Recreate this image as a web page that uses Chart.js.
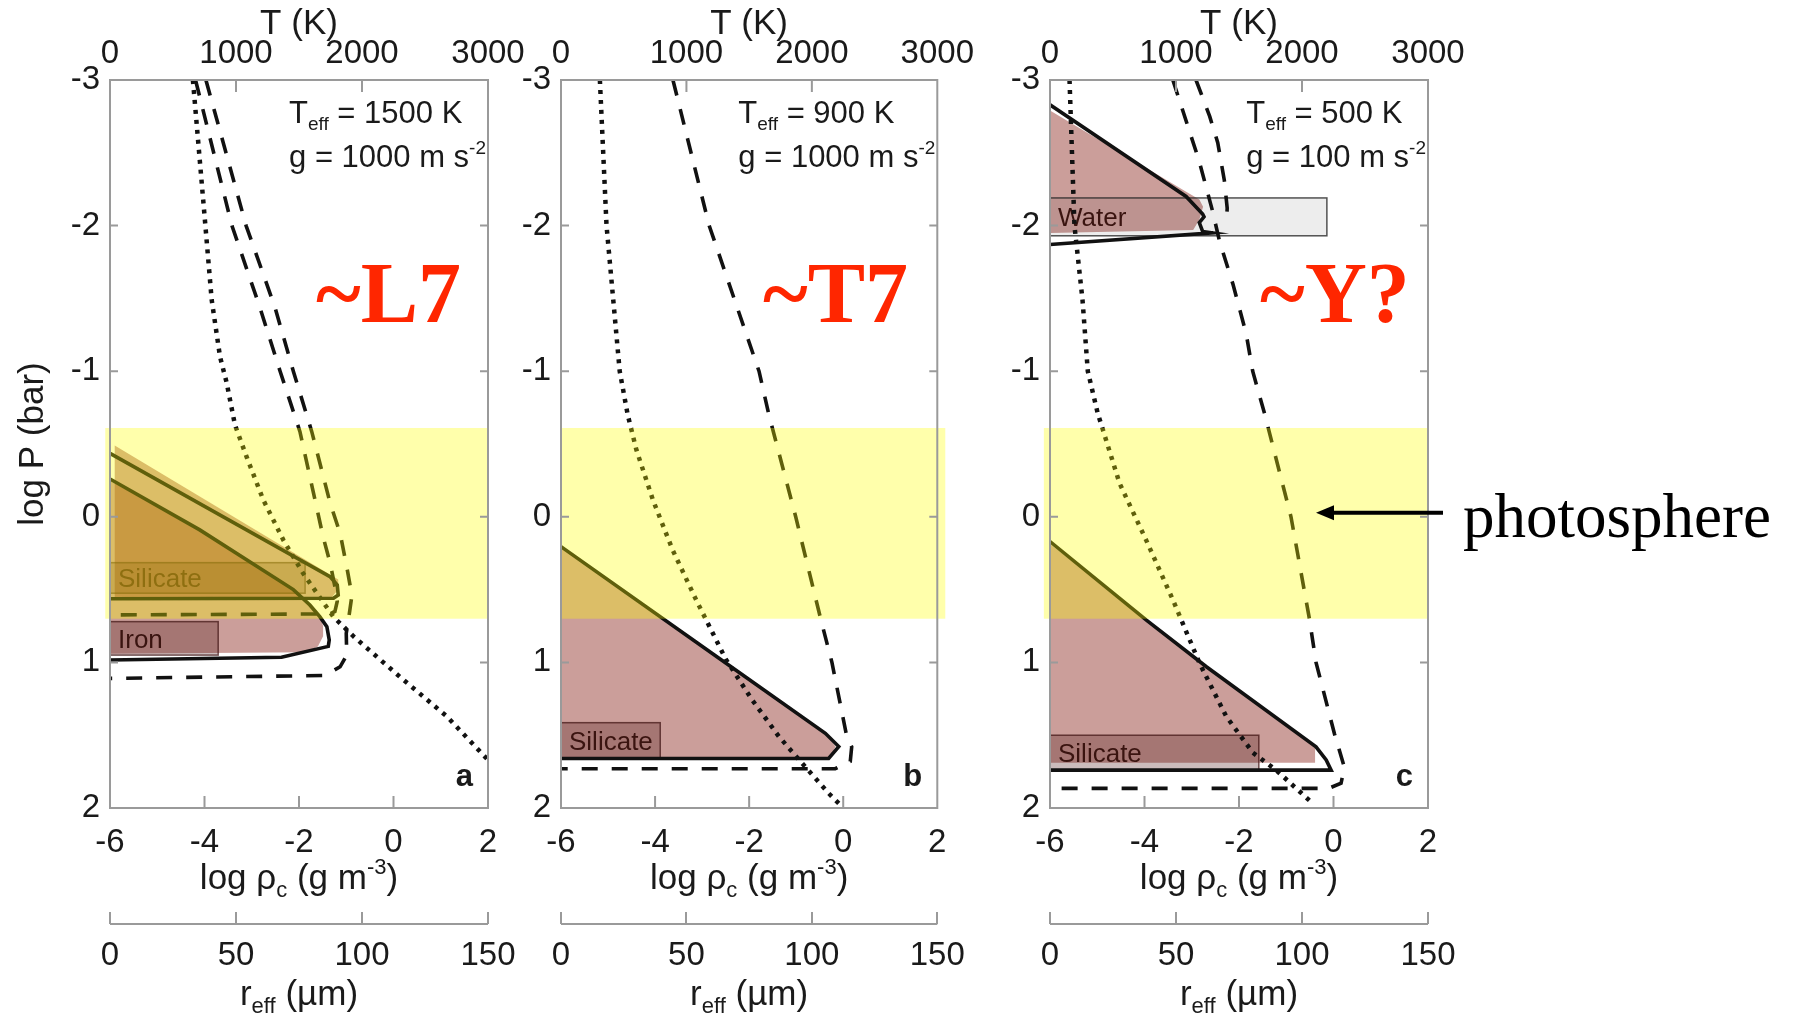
<!DOCTYPE html>
<html>
<head>
<meta charset="utf-8">
<script src="https://cdn.jsdelivr.net/npm/chart.js@4.4.1/dist/chart.umd.min.js"></script>
<style>
  html, body { margin: 0; padding: 0; background: #fff; }
  body { width: 1794px; height: 1018px; position: relative; overflow: hidden; }
  canvas { position: absolute; top: 0; }
</style>
</head>
<body>
<canvas id="panelA" width="540" height="1018" style="left:0px"></canvas>
<canvas id="panelB" width="480" height="1018" style="left:500px"></canvas>
<canvas id="panelC" width="814" height="1018" style="left:980px"></canvas>
<script>
// axis ticks
const logPTicks = [-3, -2, -1, 0, 1, 2];
const rhoTicks = [-6, -4, -2, 0, 2];
const tempTicks = [0, 1000, 2000, 3000];
const reffTicks = [0, 50, 100, 150];

// photosphere band, log P (bar)
const photosphere = [-0.61, 0.70];

// ---- a: Teff = 1500 K, g = 1000 m s-2 ----
const aSilFillRho = [-5.9, -1.17, -1.17, -1.3, -5.9];
const aSilFillP   = [-0.49, 0.43, 0.50, 0.55, 0.55];
const aFeFillRho  = [-6.2, -4.1, -2.12, -1.77, -1.56, -1.49, -1.49, -1.6, -1.85, -6];
const aFeFillP    = [-0.28, 0.08, 0.49, 0.60, 0.68, 0.75, 0.82, 0.89, 0.93, 0.94];
const aSilRho = [-6, -1.344, -1.19, -1.17, -1.27, -6];
const aSilP   = [-0.436, 0.411, 0.468, 0.537, 0.559, 0.563];
const aFeRho  = [-6, -4.1, -2.12, -1.77, -1.56, -1.41, -1.36, -1.38, -2.37, -6];
const aFeP    = [-0.26, 0.09, 0.50, 0.606, 0.686, 0.755, 0.846, 0.89, 0.965, 0.984];
const aSilDashRho = [-4.19, -3.42, -2.83, -2.40, -1.98, -1.63, -1.49, -1.34, -1.24, -1.19, -1.24, -1.34, -6];
const aSilDashP   = [-3, -2, -1.44, -1.0, -0.585, -0.07, 0.137, 0.32, 0.48, 0.58, 0.65, 0.667, 0.674];
const aFeDashRho  = [-3.97, -3.12, -2.51, -2.12, -1.73, -1.34, -1.13, -0.99, -0.88, -0.95, -1.0, -0.99, -1.13, -1.45, -6];
const aFeDashP    = [-3, -2, -1.44, -1.0, -0.585, -0.093, 0.113, 0.343, 0.54, 0.70, 0.80, 0.95, 1.03, 1.09, 1.11];
const aProfT = [658, 757, 807, 873, 926, 992, 1085, 1217, 1376, 1534, 1772, 1931, 2302, 2672, 3000];
const aProfP = [-3, -2, -1.49, -1.10, -0.92, -0.63, -0.41, -0.115, 0.16, 0.39, 0.686, 0.82, 1.10, 1.37, 1.67];

// ---- b: Teff = 900 K, g = 1000 m s-2 ----
const bSilFillRho = [-6, -2.49, -0.38, -0.16, -0.31, -6];
const bSilFillP   = [0.205, 1.006, 1.487, 1.58, 1.66, 1.66];
const bSilRho = [-6, -2.49, -0.38, -0.095, -0.31, -6];
const bSilP   = [0.205, 1.006, 1.487, 1.578, 1.66, 1.66];
const bSilDashRho = [-3.62, -2.85, -1.79, -1.58, -1.01, -0.48, -0.24, 0.07, 0.18, 0.15, -0.17, -6];
const bSilDashP   = [-3, -2, -1, -0.7, 0, 0.7, 1, 1.5, 1.58, 1.68, 1.73, 1.73];
const bProfT = [310, 363, 468, 532, 601, 733, 891, 1077, 1315, 1526, 1738, 1950, 2135, 2228];
const bProfP = [-3, -2, -1, -0.7, -0.46, -0.115, 0.23, 0.57, 0.98, 1.26, 1.51, 1.72, 1.90, 1.98];

// ---- c: Teff = 500 K, g = 100 m s-2 ----
const cWatFillRho = [-6.1, -3.18, -2.84, -2.76, -2.84, -2.97, -6];
const cWatFillP   = [-2.81, -2.245, -2.18, -2.13, -2.04, -1.97, -1.95];
const cWatRho = [-6, -3.12, -2.77, -2.74, -2.84, -2.77, -2.56, -6];
const cWatP   = [-2.83, -2.20, -2.08, -2.06, -2.02, -1.96, -1.95, -1.87];
const cWatDashRho = [-2.91, -2.62, -2.45, -2.31, -2.25, -2.26, -2.33];
const cWatDashP   = [-3, -2.75, -2.57, -2.31, -2.12, -2.05, -2.04];
const cSilFillRho = [-6.15, -3.96, -2.69, -0.39, -0.39, -6.15];
const cSilFillP   = [0.15, 0.70, 1.02, 1.57, 1.69, 1.69];
const cSilRho = [-6, -3.96, -2.69, -0.37, -0.155, -0.05, -6];
const cSilP   = [0.17, 0.71, 1.03, 1.58, 1.67, 1.74, 1.74];
const cSilDashRho = [-3.40, -3.01, -2.84, -2.70, -2.56, -2.41, -2.13, -1.85, -1.71, -1.46, -0.90, -0.51, -0.37, 0.02, 0.23, 0.16, -0.1, -6];
const cSilDashP   = [-3, -2.61, -2.44, -2.27, -2.10, -1.89, -1.6, -1.26, -1, -0.71, 0, 0.7, 1.0, 1.49, 1.72, 1.83, 1.865, 1.865];
const cProfT = [155, 194, 258, 300, 379, 419, 552, 763, 975, 1187, 1398, 1610, 1795, 2086];
const cProfP = [-3, -2, -1.49, -1, -0.71, -0.6, -0.23, 0.16, 0.57, 1.006, 1.37, 1.62, 1.74, 1.97];

const SANS = '"Liberation Sans", Arial, Helvetica, sans-serif';
const SERIF = '"Liberation Serif", "Times New Roman", serif';
const INK = '#1a1a1a';
const FRAME = '#9a9a9a';
const CLOUD = 'rgba(140,40,30,0.45)';
const BOX_RED = 'rgba(70,15,15,0.28)';

Chart.defaults.font.family = SANS;
Chart.defaults.color = INK;

function pts(xs, ys) {
  return xs.map((x, i) => ({ x: x, y: ys[i] }));
}

function fillSet(xs, ys) {
  const d = pts(xs, ys);
  d.push(d[0]);
  return { data: d, showLine: true, fill: 'shape', backgroundColor: CLOUD,
           borderWidth: 0, pointRadius: 0, tension: 0, order: 20 };
}

function lineSet(xs, ys, style, axis) {
  const d = { data: pts(xs, ys), showLine: true, fill: false, borderColor: '#111',
              borderWidth: 3.6, pointRadius: 0, tension: 0, order: 1, xAxisID: axis || 'x' };
  if (style === 'dash') d.borderDash = [16, 14];
  if (style === 'dot') { d.borderDash = [4, 6]; d.borderWidth = 4.5; }
  return d;
}

function setTicks(list) {
  return (s) => { s.ticks = list.map(v => ({ value: v })); };
}

// text with sub/superscript pieces: {t, s: scale, dy: shift in em}
function richWidth(ctx, parts, size, family) {
  let w = 0;
  parts.forEach(p => {
    ctx.font = Math.round(size * (p.s || 1)) + 'px ' + family;
    w += ctx.measureText(p.t).width;
  });
  return w;
}

function richText(ctx, parts, x, y, size, align, family, color) {
  family = family || SANS;
  ctx.save();
  ctx.fillStyle = color || INK;
  ctx.textAlign = 'left';
  ctx.textBaseline = 'alphabetic';
  const total = richWidth(ctx, parts, size, family);
  let cx = align === 'center' ? x - total / 2 : align === 'right' ? x - total : x;
  parts.forEach(p => {
    ctx.font = Math.round(size * (p.s || 1)) + 'px ' + family;
    ctx.fillText(p.t, cx, y + (p.dy || 0) * size);
    cx += ctx.measureText(p.t).width;
  });
  ctx.restore();
}

const sub = (t) => ({ t: t, s: 0.62, dy: 0.22 });
const sup = (t) => ({ t: t, s: 0.62, dy: -0.42 });

function makePanel(id, cfg) {
  const decor = {
    id: 'decor_' + id,
    beforeDatasetsDraw(chart) {
      // labelled boxes sit under the profile lines
      const { ctx, scales: { x, y } } = chart;
      ctx.save();
      cfg.boxes.forEach(b => {
        const x0 = x.getPixelForValue(b.rho[0]), x1 = x.getPixelForValue(b.rho[1]);
        const y0 = y.getPixelForValue(b.p[0]), y1 = y.getPixelForValue(b.p[1]);
        ctx.fillStyle = b.fill;
        ctx.fillRect(x0, y0, x1 - x0, y1 - y0);
        ctx.strokeStyle = b.edge;
        ctx.lineWidth = 1.5;
        ctx.strokeRect(x0, y0, x1 - x0, y1 - y0);
        ctx.fillStyle = b.ink;
        ctx.font = '26px ' + SANS;
        ctx.textAlign = 'left';
        ctx.textBaseline = 'middle';
        ctx.fillText(b.name, x0 + 8, (y0 + y1) / 2 + 2);
      });
      ctx.restore();
    },
    afterDatasetsDraw(chart) {
      const { ctx, scales: { x, y } } = chart;
      ctx.save();
      ctx.fillStyle = 'rgba(255,255,0,0.33)';
      const x0 = x.getPixelForValue(cfg.band[0]), x1 = x.getPixelForValue(cfg.band[1]);
      const y0 = y.getPixelForValue(photosphere[0]), y1 = y.getPixelForValue(photosphere[1]);
      ctx.fillRect(x0, y0, x1 - x0, y1 - y0);
      ctx.restore();
    },
    afterDraw(chart) {
      const { ctx, chartArea: a, scales } = chart;
      const { x, y, xT, xReff } = scales;
      ctx.save();
      // frame and inward ticks
      ctx.strokeStyle = FRAME;
      ctx.lineWidth = 2;
      ctx.strokeRect(a.left, a.top, a.right - a.left, a.bottom - a.top);
      ctx.beginPath();
      rhoTicks.slice(1, -1).forEach(v => {
        const px = x.getPixelForValue(v);
        ctx.moveTo(px, a.bottom); ctx.lineTo(px, a.bottom - 12);
      });
      tempTicks.slice(1, -1).forEach(v => {
        const px = xT.getPixelForValue(v);
        ctx.moveTo(px, a.top); ctx.lineTo(px, a.top + 12);
      });
      logPTicks.slice(1, -1).forEach(v => {
        const py = y.getPixelForValue(v);
        ctx.moveTo(a.left, py); ctx.lineTo(a.left + 8, py);
        ctx.moveTo(a.right, py); ctx.lineTo(a.right - 8, py);
      });
      // r_eff axis line under its tick marks
      ctx.moveTo(xReff.left, xReff.top + 12); ctx.lineTo(xReff.right, xReff.top + 12);
      ctx.stroke();

      const cx = (a.left + a.right) / 2;
      richText(ctx, [{ t: 'log \u03c1' }, sub('c'), { t: ' (g m' }, sup('-3'), { t: ')' }],
               cx, x.bottom - 23, 35, 'center');
      richText(ctx, [{ t: 'r' }, sub('eff'), { t: ' (\u00b5m)' }], cx, xReff.bottom - 13, 35, 'center');

      // model parameters, right-aligned block
      const line1 = [{ t: 'T' }, sub('eff'), { t: ' = ' + cfg.teff + ' K' }];
      const line2 = [{ t: 'g = ' + cfg.grav + ' m s' }, sup('-2')];
      const tx = a.right - 2 - richWidth(ctx, line2, 31, SANS);
      richText(ctx, line1, tx, a.top + 43, 31, 'left');
      richText(ctx, line2, tx, a.top + 87, 31, 'left');

      // spectral type tag
      ctx.fillStyle = '#ff2600';
      ctx.font = 'bold 86px ' + SERIF;
      ctx.textAlign = 'left';
      ctx.textBaseline = 'alphabetic';
      ctx.fillText(cfg.tag, a.left + cfg.tagDx, a.top + 242);

      // panel letter
      ctx.fillStyle = INK;
      ctx.font = 'bold 31px ' + SANS;
      ctx.textAlign = 'right';
      ctx.textBaseline = 'middle';
      ctx.fillText(cfg.letter, a.right - 15, a.bottom - 31);

      if (cfg.photosphere) {
        const py = y.getPixelForValue(0) - 4;
        const tip = a.right - 112;
        ctx.strokeStyle = '#000';
        ctx.fillStyle = '#000';
        ctx.lineWidth = 4;
        ctx.beginPath();
        ctx.moveTo(a.right + 15, py); ctx.lineTo(tip + 14, py);
        ctx.stroke();
        ctx.beginPath();
        ctx.moveTo(tip, py); ctx.lineTo(tip + 18, py - 7.5); ctx.lineTo(tip + 18, py + 7.5);
        ctx.closePath();
        ctx.fill();
        ctx.font = '63px ' + SERIF;
        ctx.textAlign = 'left';
        ctx.textBaseline = 'alphabetic';
        ctx.fillText('photosphere', a.right + 35, py + 24);
      }
      ctx.restore();
    }
  };

  const tickFont = { size: 33, family: SANS };
  const titleFont = { size: 35, family: SANS };
  const plain = (v) => String(v);

  new Chart(document.getElementById(id), {
    type: 'scatter',
    data: { datasets: cfg.datasets },
    options: {
      responsive: false,
      animation: false,
      events: [],
      layout: { padding: { left: 0, right: cfg.padRight, top: 0, bottom: 0 } },
      plugins: {
        legend: { display: false },
        tooltip: { enabled: false },
        filler: { drawTime: 'beforeDatasetsDraw' }
      },
      scales: {
        x: {
          type: 'linear', axis: 'x', position: 'bottom', min: -6, max: 2, weight: 0,
          afterBuildTicks: setTicks(rhoTicks),
          afterFit: (s) => { s.height = 104; },
          grid: { display: false, drawTicks: false },
          border: { display: false },
          ticks: { font: tickFont, padding: 15, maxRotation: 0, autoSkip: false, callback: plain }
        },
        xReff: {
          type: 'linear', axis: 'x', position: 'bottom', min: 0, max: 150, weight: 1,
          afterBuildTicks: setTicks(reffTicks),
          afterFit: (s) => { s.height = 106; },
          grid: { display: true, drawOnChartArea: false, drawTicks: true, tickLength: 12,
                  color: FRAME, lineWidth: 2 },
          border: { display: false },
          ticks: { font: tickFont, padding: 12, maxRotation: 0, autoSkip: false, callback: plain }
        },
        xT: {
          type: 'linear', axis: 'x', position: 'top', min: 0, max: 3000,
          afterBuildTicks: setTicks(tempTicks),
          afterFit: (s) => { s.height = 80; },
          grid: { display: false, drawTicks: false },
          border: { display: false },
          title: { display: true, text: 'T (K)', font: titleFont, color: INK, padding: { top: 3, bottom: 0 } },
          ticks: { font: tickFont, padding: 6, maxRotation: 0, autoSkip: false, callback: plain }
        },
        y: {
          type: 'linear', axis: 'y', position: 'left', min: -3, max: 2, reverse: true,
          afterBuildTicks: setTicks(logPTicks),
          afterFit: (s) => { s.width = cfg.yWidth; },
          grid: { display: false, drawTicks: false },
          border: { display: false },
          title: { display: !!cfg.yTitle, text: 'log P (bar)', font: titleFont, color: INK,
                   padding: { top: 12, bottom: 0 } },
          ticks: { font: tickFont, padding: 10, autoSkip: false, callback: plain }
        }
      }
    },
    plugins: [decor]
  });
}

makePanel('panelA', {
  yWidth: 110, padRight: 52, yTitle: true,
  teff: '1500', grav: '1000', tag: '~L7', tagDx: 206, letter: 'a',
  band: [-6.1, 2],
  boxes: [
    { name: 'Silicate', rho: [-6, -1.87], p: [0.315, 0.525], fill: 'rgba(90,45,15,0.25)',
      edge: 'rgba(70,35,10,0.55)', ink: 'rgba(80,35,20,0.9)' },
    { name: 'Iron', rho: [-6, -3.71], p: [0.72, 0.95], fill: BOX_RED,
      edge: 'rgba(60,15,15,0.7)', ink: '#3a1410' }
  ],
  datasets: [
    lineSet(aProfT, aProfP, 'dot', 'xT'),
    lineSet(aSilRho, aSilP, 'solid'),
    lineSet(aFeRho, aFeP, 'solid'),
    lineSet(aSilDashRho, aSilDashP, 'dash'),
    lineSet(aFeDashRho, aFeDashP, 'dash'),
    fillSet(aSilFillRho, aSilFillP),
    fillSet(aFeFillRho, aFeFillP)
  ]
});

makePanel('panelB', {
  yWidth: 61, padRight: 41,
  teff: '900', grav: '1000', tag: '~T7', tagDx: 202, letter: 'b',
  band: [-6, 2.17],
  boxes: [
    { name: 'Silicate', rho: [-6, -3.89], p: [1.414, 1.659], fill: BOX_RED,
      edge: 'rgba(60,15,15,0.7)', ink: '#3a1410' }
  ],
  datasets: [
    lineSet(bProfT, bProfP, 'dot', 'xT'),
    lineSet(bSilRho, bSilP, 'solid'),
    lineSet(bSilDashRho, bSilDashP, 'dash'),
    fillSet(bSilFillRho, bSilFillP)
  ]
});

makePanel('panelC', {
  yWidth: 70, padRight: 366, photosphere: true,
  teff: '500', grav: '100', tag: '~Y?', tagDx: 210, letter: 'c',
  band: [-6.13, 2],
  boxes: [
    { name: 'Water', rho: [-6, -0.14], p: [-2.19, -1.93], fill: 'rgba(0,0,0,0.07)',
      edge: 'rgba(40,40,40,0.8)', ink: '#3a1410' },
    { name: 'Silicate', rho: [-6, -1.58], p: [1.50, 1.74], fill: BOX_RED,
      edge: 'rgba(60,15,15,0.7)', ink: '#3a1410' }
  ],
  datasets: [
    lineSet(cProfT, cProfP, 'dot', 'xT'),
    lineSet(cWatRho, cWatP, 'solid'),
    lineSet(cSilRho, cSilP, 'solid'),
    lineSet(cWatDashRho, cWatDashP, 'dash'),
    lineSet(cSilDashRho, cSilDashP, 'dash'),
    fillSet(cWatFillRho, cWatFillP),
    fillSet(cSilFillRho, cSilFillP)
  ]
});
</script>
</body>
</html>
